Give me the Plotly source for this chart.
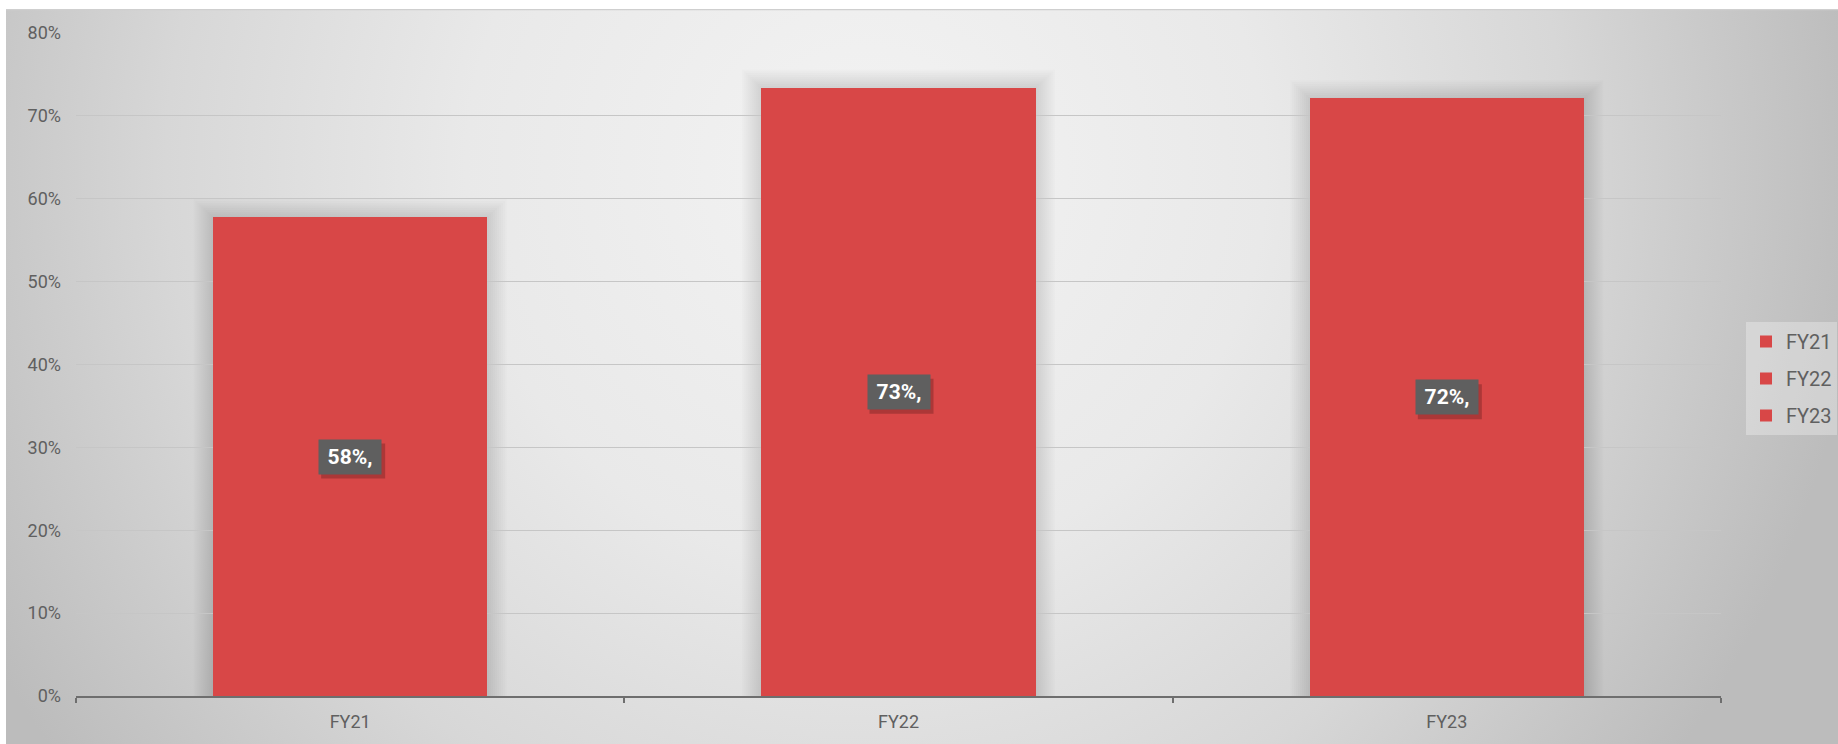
import base64
import plotly.graph_objects as go

categories = ["FY21", "FY22", "FY23"]
values = [0.5777, 0.734, 0.721]
labels = ["58%,", "73%,", "72%,"]
y_ticks = [0, 0.1, 0.2, 0.3, 0.4, 0.5, 0.6, 0.7, 0.8]
y_ticktext = ["0%", "10%", "20%", "30%", "40%", "50%", "60%", "70%", "80%"]

BAR = "#d84747"
FONT = "Roboto"
BAR_W = 0.5

svg = """<svg xmlns='http://www.w3.org/2000/svg' width='1832' height='735' viewBox='0 0 1832 735' preserveAspectRatio='none'>
<defs><radialGradient id='g' gradientUnits='userSpaceOnUse' cx='860' cy='160' r='1000' fx='860' fy='160'>
<stop offset='0' stop-color='#f3f3f3'/><stop offset='0.4' stop-color='#e9e9e9'/>
<stop offset='0.7' stop-color='#d7d7d7'/><stop offset='1' stop-color='#bcbcbc'/></radialGradient></defs>
<rect x='0' y='0' width='1832' height='735' fill='url(#g)'/>
<line x1='0' y1='0.5' x2='1832' y2='0.5' stroke='#cfcfcf' stroke-width='1.5'/>
</svg>"""
bg_src = "data:image/svg+xml;base64," + base64.b64encode(svg.encode()).decode()

fig = go.Figure()
for c, v in zip(categories, values):
    fig.add_trace(go.Bar(x=[c], y=[v], name=c, legendgroup=c, width=BAR_W,
                         marker=dict(color=BAR, line=dict(width=0)), hoverinfo="skip"))

# soft shadow around bars
for i, v in enumerate(values):
    for k in range(1, 11):
        dx = k * 0.0036
        dy = k * 0.0022
        fig.add_shape(type="rect", xref="x", yref="y", layer="below",
                      x0=i - BAR_W / 2 - dx, x1=i + BAR_W / 2 + dx, y0=0, y1=v + dy,
                      fillcolor="rgba(0,0,0,0.012)", line=dict(width=0))
    # label shadow
    fig.add_shape(type="rect", xref="x", yref="y", layer="above",
                  xsizemode="pixel", ysizemode="pixel", xanchor=i, yanchor=v / 2,
                  x0=-29, x1=35, y0=-22, y1=13,
                  fillcolor="rgba(70,20,20,0.3)", line=dict(width=0))

for c, v, t in zip(categories, values, labels):
    fig.add_annotation(x=c, y=v / 2, text="<b>%s</b>" % t, showarrow=False,
                       font=dict(family=FONT, size=21, color="white"),
                       bgcolor="#5f5f5f", width=56, height=28, borderpad=3)

PL, PR, PT, PB = 76, 117, 33, 48
W, H = 1838, 744
pw, ph = W - PL - PR, H - PT - PB
fig.add_layout_image(source=bg_src, xref="paper", yref="paper",
                     x=(6 - PL) / pw, y=(H - PB - 9) / ph,
                     sizex=(W - 6) / pw, sizey=(H - 9) / ph,
                     sizing="stretch", xanchor="left", yanchor="top", layer="below")

fig.update_layout(
    width=W, height=H,
    margin=dict(l=PL, r=PR, t=PT, b=PB, pad=0, autoexpand=False),
    paper_bgcolor="white", plot_bgcolor="rgba(0,0,0,0)",
    barmode="overlay", bargap=0,
    font=dict(family=FONT, color="#606060", size=18),
    showlegend=True,
    legend=dict(x=(1746 - PL) / pw, y=(H - PB - 322) / ph, xanchor="left", yanchor="top",
                bgcolor="rgba(255,255,255,0.3)", font=dict(size=20, color="#606060"),
                itemwidth=30, tracegroupgap=8, traceorder="grouped"),
    xaxis=dict(categoryorder="array", categoryarray=categories, showgrid=False,
               showline=True, linecolor="#6e6e6e", linewidth=2,
               ticks="outside", tickson="boundaries", ticklen=5, tickwidth=2, tickcolor="#6e6e6e",
               ticklabelstandoff=8,
               tickfont=dict(size=18, color="#606060"), fixedrange=True),
    yaxis=dict(range=[0, 0.8], tickvals=y_ticks, ticktext=y_ticktext, showgrid=True,
               gridcolor="#c6c6c6", gridwidth=1.2, zeroline=False, showline=False,
               ticks="", ticklabelstandoff=14, tickfont=dict(size=18, color="#606060"), fixedrange=True),
)

fig.write_html("out.html")
